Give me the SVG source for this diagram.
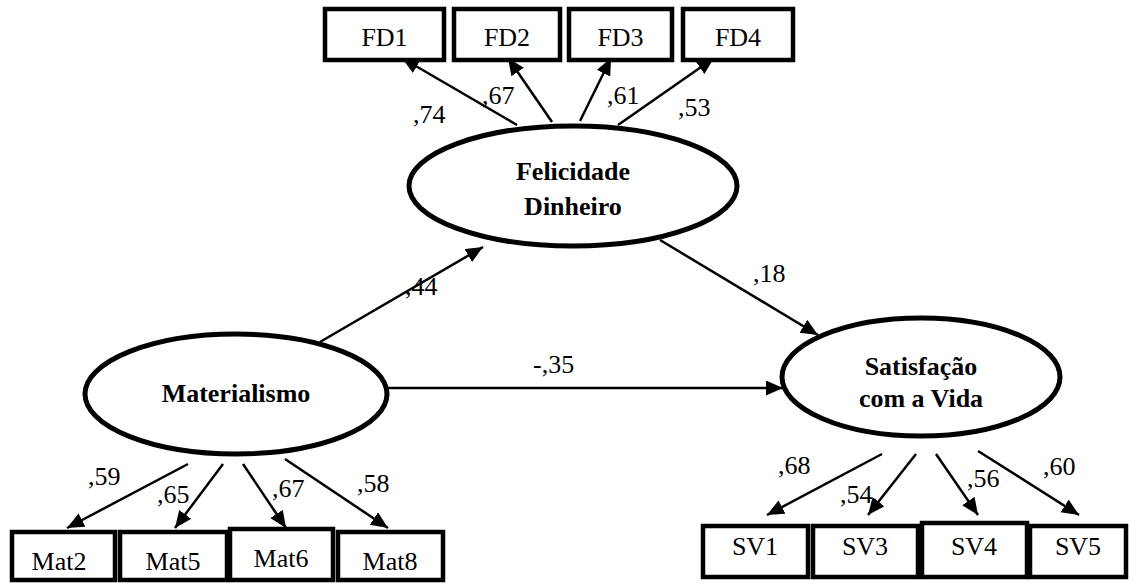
<svg xmlns="http://www.w3.org/2000/svg" width="1129" height="583" viewBox="0 0 1129 583">
<style>
.box{fill:#fff;stroke:#000;stroke-width:4.5}
.ell{fill:#fff;stroke:#000;stroke-width:5}
.t{font-family:'Liberation Serif','Times New Roman',Times,'DejaVu Serif',serif;font-size:26px;fill:#000}
.b{font-weight:bold}
.c{text-anchor:middle}
.ln{stroke:#000;stroke-width:2.5;fill:none;marker-end:url(#ah)}
</style>
<defs>
<marker id="ah" markerUnits="userSpaceOnUse" markerWidth="18" markerHeight="16" refX="17" refY="7.5" orient="auto">
<path d="M0,0 L17,7.5 L0,15 z" fill="#000"/>
</marker>
</defs>
<rect width="1129" height="583" fill="#fff"/>
<g id="connectors">
<line class="ln" x1="517" y1="125" x2="402" y2="58"/>
<line class="ln" x1="552" y1="122" x2="508" y2="58"/>
<line class="ln" x1="580" y1="121" x2="611" y2="58"/>
<line class="ln" x1="618" y1="125" x2="714" y2="58"/>
<line class="ln" x1="320" y1="342" x2="483" y2="247"/>
<line class="ln" x1="660" y1="240" x2="818" y2="335"/>
<line class="ln" x1="362" y1="388" x2="783" y2="388"/>
<line class="ln" x1="188" y1="464" x2="67" y2="528"/>
<line class="ln" x1="223" y1="464" x2="175" y2="528"/>
<line class="ln" x1="243" y1="464" x2="286" y2="528"/>
<line class="ln" x1="285" y1="459" x2="388" y2="528"/>
<line class="ln" x1="882" y1="454" x2="767" y2="515"/>
<line class="ln" x1="916" y1="454" x2="868" y2="515"/>
<line class="ln" x1="936" y1="454" x2="978" y2="515"/>
<line class="ln" x1="978" y1="451" x2="1079" y2="515"/>
</g>
<g id="labels" font-family="Liberation Serif, Times New Roman, serif" font-size="26">
<text x="413" y="123">,74</text>
<text x="482" y="104">,67</text>
<text x="607" y="104">,61</text>
<text x="678" y="116">,53</text>
<text x="405" y="295">,44</text>
<text x="753" y="282">,18</text>
<text x="533" y="373">-,35</text>
<text x="88" y="485">,59</text>
<text x="157" y="503">,65</text>
<text x="272" y="497">,67</text>
<text x="357" y="492">,58</text>
<text x="778" y="474">,68</text>
<text x="840" y="503">,54</text>
<text x="967" y="487">,56</text>
<text x="1043" y="475">,60</text>
</g>
<g id="FD1"><rect class="box" x="325" y="9" width="119" height="51"/><text class="t c" x="384.5" y="46">FD1</text></g>
<g id="FD2"><rect class="box" x="454" y="9" width="106" height="51"/><text class="t c" x="507" y="46">FD2</text></g>
<g id="FD3"><rect class="box" x="569" y="9" width="103" height="51"/><text class="t c" x="620.5" y="46">FD3</text></g>
<g id="FD4"><rect class="box" x="683" y="9" width="110" height="51"/><text class="t c" x="738" y="46">FD4</text></g>
<g id="Felicidade"><ellipse class="ell" cx="573" cy="186" rx="164" ry="60"/><text class="t b c" x="573" y="180">Felicidade</text><text class="t b c" x="573" y="215">Dinheiro</text></g>
<g id="Materialismo"><ellipse class="ell" cx="236" cy="394" rx="151" ry="60"/><text class="t b c" x="236" y="402">Materialismo</text></g>
<g id="Satisfacao"><ellipse class="ell" cx="921" cy="377" rx="139" ry="59"/><text class="t b c" x="921" y="375">Satisfação</text><text class="t b c" x="921" y="407">com a Vida</text></g>
<g id="Mat2"><rect class="box" x="12" y="532" width="103" height="48"/><text class="t c" x="59" y="570">Mat2</text></g>
<g id="Mat5"><rect class="box" x="120" y="532" width="107" height="48"/><text class="t c" x="173" y="570">Mat5</text></g>
<g id="Mat6"><rect class="box" x="230" y="529" width="103" height="51"/><text class="t c" x="281" y="567">Mat6</text></g>
<g id="Mat8"><rect class="box" x="338" y="532" width="105" height="48"/><text class="t c" x="390" y="570">Mat8</text></g>
<g id="SV1"><rect class="box" x="703" y="526" width="105" height="51"/><text class="t c" x="755" y="555">SV1</text></g>
<g id="SV3"><rect class="box" x="813" y="526" width="105" height="51"/><text class="t c" x="865" y="555">SV3</text></g>
<g id="SV4"><rect class="box" x="922" y="523" width="105" height="54"/><text class="t c" x="974" y="555">SV4</text></g>
<g id="SV5"><rect class="box" x="1030" y="526" width="96" height="51"/><text class="t c" x="1078" y="555">SV5</text></g>
</svg>
